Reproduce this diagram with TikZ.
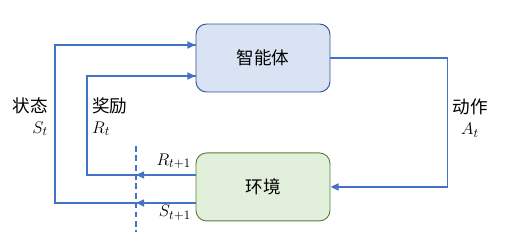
\documentclass[tikz,border=0pt]{standalone}
\usepackage{fontspec}
\newfontfamily\cjk{Noto Sans CJK SC}
\usetikzlibrary{arrows.meta, positioning, calc}
\definecolor{LineBlue}  {HTML}{4472C4}
\definecolor{AgentFill} {HTML}{DAE3F3}
\definecolor{AgentEdge} {HTML}{2F5597}
\definecolor{EnvFill}   {HTML}{E2EFDA}
\definecolor{EnvEdge}   {HTML}{548235}

\begin{document}
\begin{tikzpicture}[
  x=0.03cm, y=-0.03cm,
  node distance=18mm,
  every node/.style={font=\fontsize{15}{18}\selectfont},
  block/.style={rounded corners=9pt, line width=0.8pt,
               minimum width=4.02cm, minimum height=2.04cm,
               font=\cjk\fontsize{15}{18}\selectfont},
  agentbox/.style={block, draw=AgentEdge, fill=AgentFill},
  envbox/.style={block, draw=EnvEdge, fill=EnvFill},
  arr/.style={-{Triangle[length=7pt,width=6pt]}, line width=1.4pt, color=LineBlue},
  wire/.style={line width=1.4pt, color=LineBlue},
  lbl/.style={inner sep=0pt},
]
  \useasboundingbox (0,0) rectangle (519,241);

  \node[agentbox] (agent) at (263,58) {智能体};
  \node[envbox, below=of agent] (env) {环境};

  % action: agent -> environment
  \draw[arr] (agent.east) -- ++(117,0) |- (env.east);

  % state and reward back to the agent
  \coordinate (sout) at ($(env.west)+(0,16)$);
  \coordinate (rout) at ($(env.west)+(0,-12)$);
  \coordinate (sin)  at ($(agent.west)+(0,-13)$);
  \coordinate (rin)  at ($(agent.west)+(0,18)$);
  \draw[wire] (sout) -| (55,120) |- (sin);
  \draw[wire] (rout) -| (87,120) |- (rin);
  \draw[arr] ($(sin)+(-20,0)$) -- (sin);
  \draw[arr] ($(rin)+(-20,0)$) -- (rin);

  % time step boundary
  \coordinate (cuttop) at (136,146);
  \coordinate (cutbot) at (136,232);
  \draw[LineBlue, line width=1.1pt, dash pattern=on 5pt off 3pt] (cuttop) -- (cutbot);
  \foreach \p in {sout, rout}
    \draw[arr] (\p) -- (cuttop |- \p);

  % labels
  \node[lbl, align=right, anchor=north east] (slbl) at (48,97)
    {{\cjk 状态}\\$S_t$};
  \node[lbl, align=left, anchor=north west] (rlbl) at (92,97)
    {{\cjk 奖励}\\$R_t$};
  \node[lbl, align=center] (albl) at (470,118)
    {{\cjk 动作}\\$A_t$};
  \node[lbl, anchor=south east] (rnext) at (191,169) {$R_{t+1}$};
  \node[lbl, anchor=north east] (snext) at (191,205) {$S_{t+1}$};
\end{tikzpicture}
\end{document}
